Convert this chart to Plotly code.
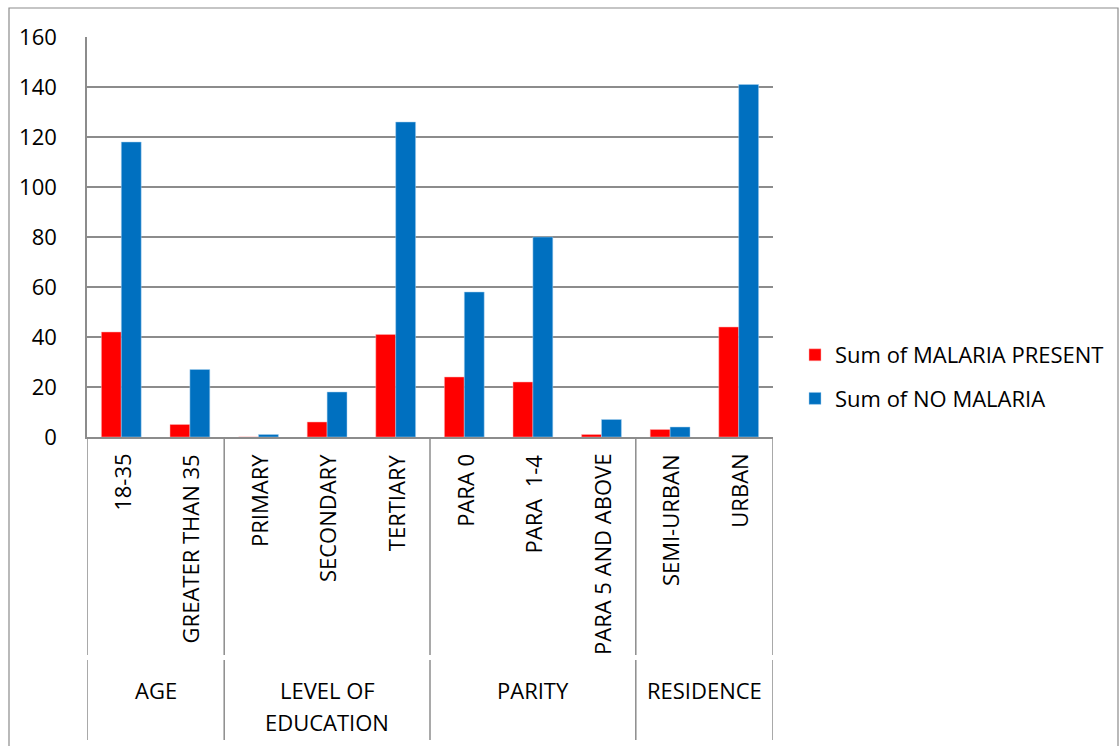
import plotly.graph_objects as go

categories = ["18-35", "GREATER THAN 35", "PRIMARY", "SECONDARY", "TERTIARY",
              "PARA 0", "PARA  1-4", "PARA 5 AND ABOVE", "SEMI-URBAN", "URBAN"]
groups = ["AGE", "LEVEL OF EDUCATION", "PARITY", "RESIDENCE"]
group_sizes = [2, 3, 3, 2]
malaria_present = [42, 5, 0, 6, 41, 24, 22, 1, 3, 44]
no_malaria = [118, 27, 1, 18, 126, 58, 80, 7, 4, 141]
y_ticks = [0, 20, 40, 60, 80, 100, 120, 140, 160]

FONT = "Open Sans"
FS = 22
GRID = "#8c8c8c"

W, H = 1120, 746
L, R, T, B = 87, 347, 37, 309
ph = H - T - B
pw = W - L - R

def py(pix):
    return (H - B - pix) / ph

def px(pix):
    return (pix - L) / pw

fig = go.Figure()
fig.add_trace(go.Bar(x=categories, y=malaria_present, name="Sum of MALARIA PRESENT",
                     marker=dict(color="#FF0000", line=dict(color="#ffb3b3", width=0.5)),
                     legendgroup="a"))
fig.add_trace(go.Bar(x=categories, y=no_malaria, name="Sum of NO MALARIA",
                     marker=dict(color="#0070C0", line=dict(color="#a9d0ef", width=0.5)),
                     legendgroup="b"))

annotations = []
for c in categories:
    annotations.append(dict(x=c, xref="x", y=py(452), yref="paper", text=c,
                            textangle=-90, xanchor="center", yanchor="top",
                            showarrow=False, font=dict(family=FONT, size=FS, color="#000")))

shapes = []
bounds = [-0.5]
for s in group_sizes:
    bounds.append(bounds[-1] + s)
for b in bounds:
    shapes.append(dict(type="line", xref="x", yref="paper", x0=b, x1=b,
                       y0=0, y1=py(655), line=dict(color=GRID, width=1.5)))
    shapes.append(dict(type="line", xref="x", yref="paper", x0=b, x1=b,
                       y0=py(660), y1=py(740), line=dict(color=GRID, width=1.5)))

for i, g in enumerate(groups):
    cx = (bounds[i] + bounds[i + 1]) / 2
    if g == "LEVEL OF EDUCATION":
        for txt, yy in (("LEVEL OF", 690), ("EDUCATION", 722)):
            annotations.append(dict(x=cx, xref="x", y=py(yy), yref="paper", text=txt,
                                    xanchor="center", yanchor="middle", showarrow=False,
                                    font=dict(family=FONT, size=FS, color="#000")))
    else:
        annotations.append(dict(x=cx, xref="x", y=py(690), yref="paper", text=g,
                                xanchor="center", yanchor="middle", showarrow=False,
                                font=dict(family=FONT, size=FS, color="#000")))

# outer chart border
shapes.append(dict(type="rect", xref="paper", yref="paper",
                   x0=px(9), x1=px(1118), y0=py(760), y1=py(8),
                   line=dict(color=GRID, width=1.2), fillcolor="rgba(0,0,0,0)"))

fig.update_layout(
    width=W, height=H,
    margin=dict(l=L, r=R, t=T, b=B, pad=0, autoexpand=False),
    paper_bgcolor="white", plot_bgcolor="white",
    barmode="group", bargap=0.42, bargroupgap=0,
    font=dict(family=FONT, size=FS, color="#000"),
    xaxis=dict(type="category", showticklabels=False, showgrid=False,
               showline=True, linecolor=GRID, linewidth=1.5, ticks="",
               range=[-0.5, len(categories) - 0.5], automargin=False),
    yaxis=dict(range=[0, 160], tickvals=y_ticks, showgrid=True, gridcolor=GRID,
               gridwidth=1.5, showline=True, linecolor=GRID, linewidth=1.5,
               ticks="", ticklabelstandoff=24, zeroline=False, automargin=False,
               tickfont=dict(family=FONT, size=FS, color="#000")),
    legend=dict(x=px(795), xanchor="left", y=py(377), yanchor="middle",
                traceorder="grouped", tracegroupgap=12,
                font=dict(family=FONT, size=FS, color="#000"),
                bgcolor="rgba(0,0,0,0)"),
    annotations=annotations, shapes=shapes,
)

fig.write_html("out.html")
